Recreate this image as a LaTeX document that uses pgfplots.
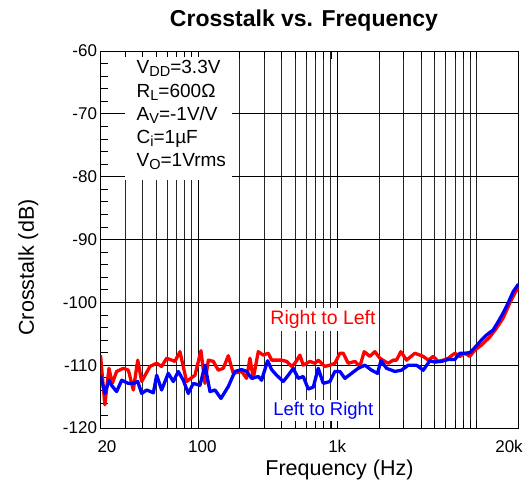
\documentclass[border=0pt]{standalone}
\usepackage{fontspec}
\setmainfont{Liberation Sans}
\usepackage{pgfplots}
\usepackage{pgfplotstable}
\pgfplotsset{compat=1.18}
\newcommand{\sub}[1]{\raisebox{-0.28ex}{\fontsize{14.5bp}{15bp}\selectfont #1}}

\pgfplotstableread{
f db
20 -108.4
21.5 -116.3
23.0 -110.5
24.3 -112.9
26.1 -111.0
29.2 -110.5
31.7 -110.8
34.4 -113.95
37.0 -109.2
39.5 -112.6
45.3 -110.2
50.6 -109.7
54.9 -110.2
59.7 -108.9
68.5 -109.4
74.3 -107.85
83.0 -112.6
95.3 -111.6
105.2 -107.7
112.4 -112.9
118.8 -109.2
129.0 -109.4
140.1 -110.8
152.1 -110.5
165.2 -108.5
179.5 -111.3
205.9 -111.0
223.7 -112.1
236.3 -108.9
249.7 -112.1
271.3 -107.85
294.5 -108.4
319.9 -108.1
338.0 -109.2
398.7 -109.2
433.0 -109.4
470.3 -110.2
496.9 -109.7
539.8 -108.4
570.3 -110.0
636.9 -109.4
691.7 -109.7
730.8 -109.2
815.8 -110.2
886.0 -110.0
962.3 -109.7
1045 -108.1
1104 -108.1
1199 -109.7
1339 -109.4
1454 -110.2
1562 -107.85
1715 -108.6
1863 -107.85
2024 -108.9
2198 -109.4
2322 -109.7
2522 -109.2
2665 -109.2
2862 -107.85
3144 -109.2
3607 -108.1
4140 -108.6
4495 -109.2
4881 -108.6
5302 -109.4
5759 -109.2
6256 -108.9
6982 -108.1
7586 -108.6
8237 -108.1
8946 -108.6
9716 -107.6
10850 -106.8
12451 -105.5
13905 -104.1
15512 -102.5
17326 -100.1
18820 -98.55
20000 -97.6
}\rtol

\pgfplotstableread{
f db
20 -111.6
21.5 -114.5
23.0 -112.4
24.0 -113.2
26.1 -114.2
28.4 -112.4
31.7 -112.9
34.4 -112.9
37.0 -112.6
39.5 -114.5
42.9 -113.95
47.9 -114.4
50.6 -111.6
54.9 -113.95
61.3 -111.3
66.6 -112.6
72.3 -111.0
78.6 -112.4
85.3 -114.5
92.7 -112.9
103.5 -113.2
112.4 -110.0
122.1 -114.2
132.6 -113.95
146.4 -115.3
165.2 -113.4
184.5 -111.0
205.9 -110.7
223.7 -111.0
242.9 -112.1
271.3 -111.8
286.6 -112.4
316.4 -109.3
338.0 -110.7
367.1 -111.6
410.0 -112.6
445.2 -111.6
483.5 -110.5
525.1 -112.1
570.3 -111.8
619.4 -113.8
672.9 -113.5
730.8 -110.5
793.6 -112.9
886.0 -112.6
962.3 -111.0
1045 -111.0
1135 -112.1
1267 -111.3
1415 -110.5
1579 -110.0
1763 -110.8
1947 -111.3
2058 -109.3
2259 -110.5
2593 -111.0
2894 -110.8
3231 -110.0
3708 -110.0
4140 -110.8
4620 -109.3
5018 -109.5
5603 -109.4
6256 -109.1
6982 -109.1
7586 -108.1
8237 -108.1
8946 -108.0
9716 -107.2
10848 -106.0
11789 -105.2
13150 -104.4
14280 -103.1
15512 -101.7
16850 -100.1
18300 -98.3
20000 -97.1
}\ltor

\begin{document}
\begin{tikzpicture}
\path[use as bounding box] (-100.5bp,-55bp) rectangle (430.5bp,428bp);
\begin{axis}[
  at={(0,0)}, anchor=south west,
  scale only axis, width=418bp, height=377bp,
  xmode=log, xmin=20, xmax=20000, ymin=-120, ymax=-60,
  xtick={20,100,1000,20000},
  xticklabels={\hspace*{13bp}20,\hspace*{9bp}100,1k,20k\hspace*{19bp}},
  minor xtick={30,40,50,60,70,80,90,200,300,400,500,600,700,800,900,2000,3000,4000,5000,6000,7000,8000,9000,10000},
  ytick={-120,-110,-100,-90,-80,-70,-60},
  yticklabels={-120,-110,-100,-90,-80,-70,-60},
  minor y tick num=4,
  ytick pos=left,
  ymajorgrids, xmajorgrids, xminorgrids,
  major grid style={black, line width=0.7bp},
  minor grid style={black!85, line width=0.8bp},
  tick align=inside,
  major tick length=8bp, minor tick length=8bp,
  tick style={black, line width=0.7bp},
  axis line style={black, line width=0.9bp},
  ticklabel style={font=\fontsize{17bp}{20bp}\selectfont},
  xticklabel style={anchor=base, yshift=-24bp},
]
\addplot[red, line width=3.3bp, line join=round] table[x=f, y=db] {\rtol};
\addplot[blue, line width=3.3bp, line join=round] table[x=f, y=db] {\ltor};
\end{axis}
% annotation box
\fill[white] (24.5bp,371bp) rectangle (131.5bp,248bp);
\begin{scope}[every node/.style={anchor=base west, inner sep=0pt, font=\fontsize{19bp}{22bp}\selectfont}]
\node at (36bp,354bp) {V\sub{DD}=3.3V};
\node at (36bp,330.7bp) {R\sub{L}=600Ω};
\node at (36bp,307.5bp) {A\sub{V}=-1V/V};
\node at (36bp,284.3bp) {C\sub{i}=1µF};
\node at (36bp,261.1bp) {V\sub{O}=1Vrms};
\end{scope}
\node[anchor=base, fill=white, inner sep=2bp, text=red, font=\fontsize{19.5bp}{22bp}\selectfont] at (222.5bp,103.5bp) {Right to Left};
\node[anchor=base, fill=white, inner sep=2bp, text=blue, font=\fontsize{18.5bp}{22bp}\selectfont] at (222.8bp,13bp) {Left to Right};
% title and labels
\node[anchor=base, font=\fontsize{23bp}{27bp}\selectfont\bfseries] at (203.5bp,401bp) {Crosstalk vs. Frequency};
\node[anchor=base, font=\fontsize{21.5bp}{25bp}\selectfont] at (239bp,-47bp) {Frequency (Hz)};
\node[anchor=base, rotate=90, font=\fontsize{21.5bp}{25bp}\selectfont] at (-66.5bp,160.5bp) {Crosstalk (dB)};
\end{tikzpicture}
\end{document}
